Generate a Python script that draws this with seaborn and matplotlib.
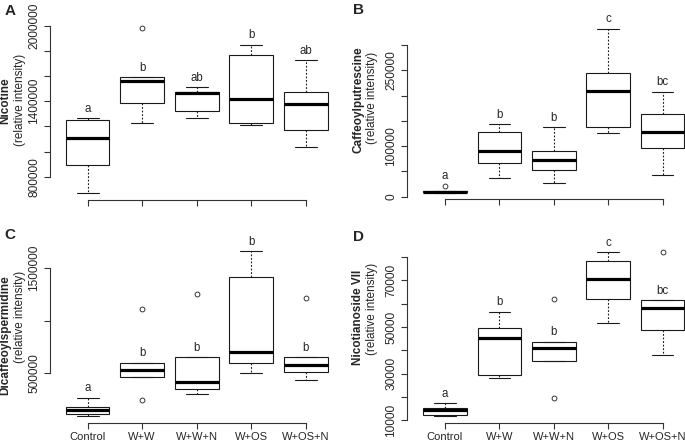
import numpy as np
import pandas as pd
import matplotlib
matplotlib.use("Agg")
import matplotlib.pyplot as plt
from matplotlib import cbook
import seaborn as sns

groups = ["Control", "W+W", "W+W+N", "W+OS", "W+OS+N"]

# raw values per treatment
nicotine = [
    [670200, 800000, 892700, 1000000, 1104600, 1180000, 1250300, 1258000, 1263600],
    [1229200, 1300000, 1388100, 1480000, 1563000, 1575000, 1589400, 1589400, 1978800],
    [1268900, 1300000, 1321900, 1400000, 1465000, 1467000, 1470200, 1490000, 1509900],
    [1213300, 1220000, 1229200, 1320000, 1414600, 1600000, 1764200, 1800000, 1849000],
    [1038400, 1100000, 1168200, 1280000, 1377500, 1420000, 1470200, 1600000, 1724500],
]
caffeoylputrescine = [
    [7900, 8300, 8600, 9300, 9900, 10500, 11200, 11900, 21800],
    [36300, 52000, 66000, 80000, 90400, 110000, 127300, 135000, 143800],
    [26400, 40000, 53400, 63000, 71900, 82000, 90400, 115000, 137900],
    [125300, 130000, 137200, 175000, 209100, 225000, 244100, 290000, 332400],
    [42900, 70000, 95600, 112000, 128600, 145000, 162900, 185000, 207800],
]
dicaffeoylspermidine = [
    [93700, 103000, 112700, 130000, 147600, 165000, 182500, 225000, 268300],
    [242900, 465100, 465100, 500000, 531700, 570000, 601600, 601600, 1109500],
    [306300, 330000, 347600, 390000, 420600, 540000, 655600, 655600, 1255600],
    [506300, 560000, 601600, 650000, 706300, 1100000, 1417500, 1550000, 1661900],
    [439700, 480000, 509500, 550000, 582500, 620000, 652400, 652400, 1217500],
]
nicotianoside = [
    [11720, 12000, 12150, 13200, 14160, 14800, 15300, 16300, 17165],
    [27900, 28500, 29200, 38000, 45100, 47500, 49700, 53000, 56570],
    [19600, 35500, 35500, 38500, 40800, 42500, 43670, 43670, 61870],
    [51840, 57000, 61870, 66000, 70470, 75000, 78350, 80500, 82080],
    [38090, 44000, 48550, 54000, 58290, 60000, 61440, 61440, 82370],
]

letters_a = ["a", "b", "ab", "b", "ab"]
letters_b = ["a", "b", "b", "c", "bc"]
letters_c = ["a", "b", "b", "b", "b"]
letters_d = ["a", "b", "b", "c", "bc"]

ticks_a = [800000, 1000000, 1200000, 1400000, 1600000, 1800000, 2000000]
ticklabels_a = ["800000", "", "", "1400000", "", "", "2000000"]
ticks_b = [0, 50000, 100000, 150000, 200000, 250000, 300000]
ticklabels_b = ["0", "", "100000", "", "", "250000", ""]
ticks_c = [500000, 1000000, 1500000]
ticklabels_c = ["500000", "", "1500000"]
ticks_d = [10000, 20000, 30000, 40000, 50000, 60000, 70000, 80000]
ticklabels_d = ["10000", "", "30000", "", "50000", "", "70000", ""]

W, H = 685, 442
FONT = ["Liberation Sans", "DejaVu Sans"]


def px_rect(left, right, top, bottom):
    return [left / W, 1 - bottom / H, (right - left) / W, (bottom - top) / H]


def box_panel(ax, values, letters, ticks, ticklabels, show_names):
    df = pd.DataFrame({"group": np.repeat(groups, [len(v) for v in values]),
                       "value": np.concatenate(values)})
    sns.boxplot(data=df, x="group", y="value", order=groups, ax=ax, width=0.8,
                color="white", linecolor="#1a1a1a", linewidth=0.8, fliersize=3.5,
                medianprops={"linewidth": 2.3, "color": "black"},
                whiskerprops={"linestyle": (0, (1.6, 1.6))},
                flierprops={"marker": "o", "markerfacecolor": "none",
                            "markeredgewidth": 0.6})
    lo = min(min(v) for v in values)
    hi = max(max(v) for v in values)
    pad = 0.04 * (hi - lo)
    ax.set_ylim(lo - pad, hi + pad)
    ax.set_xlim(-0.7, len(groups) - 0.3)

    ax.set_yticks(ticks, ticklabels)
    for lab in ax.get_yticklabels():
        lab.set_rotation(90)
        lab.set_va("center")
    ax.set_xticks(range(len(groups)), groups if show_names else [""] * len(groups))
    ax.set_xlabel("")
    ax.set_ylabel("")
    ax.tick_params(direction="out", length=4.3, width=0.8, color="#333333", pad=2.5)
    ax.tick_params(axis="x", labelsize=8)
    ax.tick_params(axis="y", labelsize=8.6)
    sns.despine(ax=ax)
    for side in ["left", "bottom"]:
        ax.spines[side].set_color("#333333")
        ax.spines[side].set_linewidth(0.8)
    ax.spines["left"].set_bounds(ticks[0], ticks[-1])
    ax.spines["bottom"].set_bounds(0, len(groups) - 1)

    # significance letters above the upper whisker
    span = hi - lo + 2 * pad
    for i, v in enumerate(values):
        st = cbook.boxplot_stats(np.asarray(v, dtype=float))[0]
        top = st["whishi"]
        near = [f for f in st["fliers"] if top < f < top + 0.05 * span]
        if near:
            top = max(near)
        ax.annotate(letters[i], (i, top), xytext=(0, 6.8), textcoords="offset points",
                    ha="center", va="center", fontsize=8.3)


sns.set_style("ticks")
plt.rcParams["font.family"] = FONT

fig = plt.figure(figsize=(W / 100, H / 100), dpi=100)
ax_a = fig.add_axes(px_rect(49.5, 343.9, 21.7, 199.7))
ax_b = fig.add_axes(px_rect(406.9, 700.7, 22.1, 199.2))
ax_c = fig.add_axes(px_rect(49.5, 343.9, 244.7, 422.6))
ax_d = fig.add_axes(px_rect(406.9, 700.7, 245.1, 422.6))

box_panel(ax_a, nicotine, letters_a, ticks_a, ticklabels_a, False)
box_panel(ax_b, caffeoylputrescine, letters_b, ticks_b, ticklabels_b, False)
box_panel(ax_c, dicaffeoylspermidine, letters_c, ticks_c, ticklabels_c, True)
box_panel(ax_d, nicotianoside, letters_d, ticks_d, ticklabels_d, True)

# y labels: bold compound name over "(relative intensity)"
ylabels = [("Nicotine", 5.5, 100.7, 20, 100),
           ("Caffeoylputrescine", 358, 100, 371.7, 98),
           ("Dicaffeoylspermidine", 5.5, 335, 20, 317),
           ("Nicotianoside VII", 358, 317, 371.7, 309)]
for name, xb, yb, xn, yn in ylabels:
    fig.text(xb / W, 1 - yb / H, name, rotation=90, ha="center", va="center",
             fontsize=8.5, fontweight="bold")
    fig.text(xn / W, 1 - yn / H, "(relative intensity)", rotation=90, ha="center",
             va="center", fontsize=8.5)

for lab, x, y in [("A", 10.5, 11), ("B", 358, 10), ("C", 10, 235), ("D", 358, 237)]:
    fig.text(x / W, 1 - y / H, lab, ha="center", va="center", fontsize=11,
             fontweight="bold")

fig.savefig("out.png", dpi=100)
